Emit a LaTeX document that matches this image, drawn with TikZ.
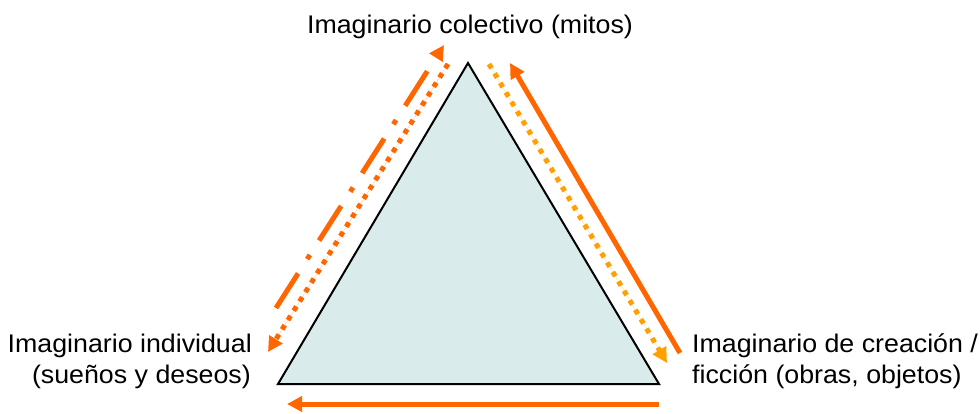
\documentclass[tikz,border=0pt]{standalone}
\usepackage{fontspec}
\setmainfont[FakeStretch=1.05]{Liberation Sans}
\usetikzlibrary{arrows.meta}
\definecolor{dorange}{RGB}{255,102,0}
\definecolor{lorange}{RGB}{255,160,0}
\definecolor{trifill}{RGB}{218,235,236}
\begin{document}
\begin{tikzpicture}[x=1pt,y=-1pt,
  lbl/.style={inner sep=0pt,font=\fontsize{25.5}{31}\selectfont},
  tip/.style={-{Triangle[length=15pt,width=15pt]}},
  solidarrow/.style={tip,draw=dorange,line width=5pt},
  dotarrow/.style={tip,line width=5pt,dash pattern=on 5pt off 6pt},
  dashdotarrow/.style={tip,draw=dorange,line width=5pt,dash pattern=on 41pt off 17pt on 5pt off 17pt}]
\useasboundingbox (0,0) rectangle (980,413);
% triangle
\coordinate (T) at (468,63);
\coordinate (L) at (278,384);
\coordinate (R) at (659,384);
\draw[line width=2pt,line join=miter,fill=trifill] (T) -- (L) -- (R) -- cycle;
% arrow end points
\coordinate (ddS) at (276,308);
\coordinate (ddE) at (444,45);
\coordinate (ldS) at (448,64);
\coordinate (ldE) at (268,352);
\coordinate (rdS) at (489,64);
\coordinate (rdE) at (667,363);
\coordinate (rsS) at (680,353);
\coordinate (rsE) at (510,63);
\coordinate (bS) at (659,404);
\coordinate (bE) at (287,404);
\draw[dashdotarrow] (ddS) -- (ddE);
\draw[dotarrow,draw=dorange,fill=dorange] (ldS) -- (ldE);
\draw[dotarrow,draw=lorange,fill=lorange] (rdS) -- (rdE);
\draw[solidarrow] (rsS) -- (rsE);
\draw[solidarrow] (bS) -- (bE);
% labels
\node[lbl,anchor=base] (top) at (470,33) {Imaginario colectivo (mitos)};
\node[lbl,anchor=base east] (left1) at (252,352) {Imaginario individual};
\node[lbl,anchor=base east] (left2) at (251,383) {(sueños y deseos)};
\node[lbl,anchor=base west] (right1) at (692,352) {Imaginario de creación /};
\node[lbl,anchor=base west] (right2) at (692,383) {ficción (obras, objetos)};
\end{tikzpicture}
\end{document}
